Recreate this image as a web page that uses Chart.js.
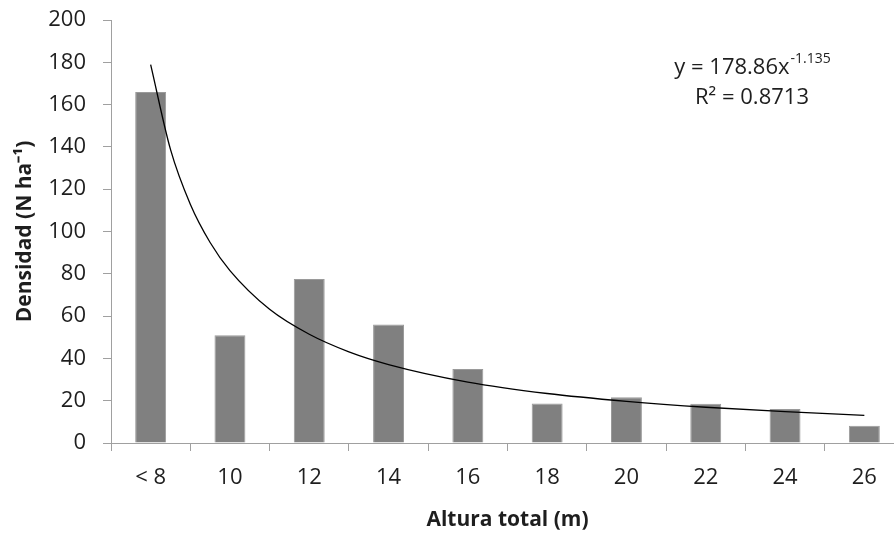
<!DOCTYPE html>
<html>
<head>
<meta charset="utf-8">
<style>
  html, body { margin: 0; padding: 0; overflow: hidden; background: #fff; width: 894px; height: 533px; }
  canvas { display: block; }
</style>
<script src="https://cdn.jsdelivr.net/npm/chart.js@4.4.1/dist/chart.umd.min.js"></script>
</head>
<body>
<canvas id="c" width="910" height="533"></canvas>
<script>
const categories = ['< 8', '10', '12', '14', '16', '18', '20', '22', '24', '26'];
const densidad = [166, 51, 77.5, 56, 35, 18.7, 21.6, 18.6, 16.1, 8.2];
const trendX = [1, 1.25, 1.5, 1.75, 2, 2.5, 3, 3.5, 4, 5, 6, 7, 8, 9, 10];
const trendY = [178.9, 138.8, 112.9, 94.8, 81.5, 63.2, 51.4, 43.1, 37.1, 28.8, 23.4, 19.7, 16.9, 14.8, 13.1];
const yTicks = [0, 20, 40, 60, 80, 100, 120, 140, 160, 180, 200];
const eqMain = 'y = 178.86x';
const eqExp = '-1.135';
const eqR2 = 'R² = 0.8713';

const FONT = "'Open Sans', 'Liberation Sans', sans-serif";
const TEXT = '#1e1e1e';
const AXIS = '#a0a0a0';

const equationPlugin = {
  id: 'equation',
  afterDraw(chart) {
    const ctx = chart.ctx;
    ctx.save();
    ctx.fillStyle = TEXT;
    ctx.textBaseline = 'middle';
    ctx.font = '22px ' + FONT;
    const w1 = ctx.measureText(eqMain).width;
    ctx.font = '14px ' + FONT;
    const w2 = ctx.measureText(eqExp).width;
    const cx = 752;
    let x0 = cx - (w1 + w2) / 2;
    ctx.textAlign = 'left';
    ctx.font = '22px ' + FONT;
    ctx.fillText(eqMain, x0, 68);
    ctx.font = '14px ' + FONT;
    ctx.fillText(eqExp, x0 + w1 + 1, 59);
    ctx.font = '22px ' + FONT;
    ctx.textAlign = 'center';
    ctx.fillText(eqR2, cx, 98);
    ctx.restore();
  }
};

new Chart(document.getElementById('c'), {
  type: 'bar',
  data: {
    labels: categories,
    datasets: [
      {
        type: 'bar',
        data: densidad,
        xAxisID: 'x',
        yAxisID: 'y',
        backgroundColor: '#808080',
        borderColor: '#9a9a9a',
        borderWidth: 1,
        grouped: false,
        barPercentage: 0.39,
        categoryPercentage: 1.0,
        order: 2
      },
      {
        type: 'line',
        data: trendX.map((x, i) => ({ x: x, y: trendY[i] })),
        xAxisID: 'xt',
        yAxisID: 'y',
        borderColor: '#000',
        borderWidth: 1.3,
        pointRadius: 0,
        fill: false,
        cubicInterpolationMode: 'monotone',
        order: 1
      }
    ]
  },
  options: {
    responsive: false,
    animation: false,
    events: [],
    layout: { padding: { top: 20, right: 6, left: 0, bottom: 0 } },
    plugins: {
      legend: { display: false },
      tooltip: { enabled: false },
      title: { display: false }
    },
    scales: {
      x: {
        type: 'category',
        offset: true,
        grid: {
          offset: true,
          drawOnChartArea: false,
          drawTicks: true,
          tickLength: 8,
          color: AXIS,
          lineWidth: 1
        },
        border: { display: true, color: AXIS, width: 1 },
        ticks: {
          color: TEXT,
          font: { family: FONT, size: 22 },
          padding: 14,
          maxRotation: 0,
          autoSkip: false
        },
        title: {
          display: true,
          text: 'Altura total (m)',
          color: TEXT,
          font: { family: FONT, size: 21, weight: 'bold' },
          padding: { top: 0, bottom: 0 }
        },
        afterFit(scale) { scale.height = 90; scale.paddingLeft = 0; scale.paddingRight = 0; }
      },
      xt: {
        type: 'linear',
        display: false,
        offset: false,
        grid: { offset: false },
        min: 0.5,
        max: 10.5
      },
      y: {
        type: 'linear',
        min: 0,
        max: 200,
        afterBuildTicks(scale) { scale.ticks = yTicks.map(v => ({ value: v })); },
        grid: {
          drawOnChartArea: false,
          drawTicks: true,
          tickLength: 8,
          color: AXIS,
          lineWidth: 1
        },
        border: { display: true, color: AXIS, width: 1 },
        ticks: {
          color: TEXT,
          font: { family: FONT, size: 22 },
          padding: 17
        },
        title: {
          display: true,
          text: 'Densidad (N ha⁻¹)',
          color: TEXT,
          font: { family: FONT, size: 21, weight: 'bold' },
          padding: { top: 12, bottom: 0 }
        },
        afterFit(scale) { scale.width = 111; scale.paddingTop = 0; scale.paddingBottom = 0; }
      }
    }
  },
  plugins: [equationPlugin]
});
</script>
</body>
</html>
